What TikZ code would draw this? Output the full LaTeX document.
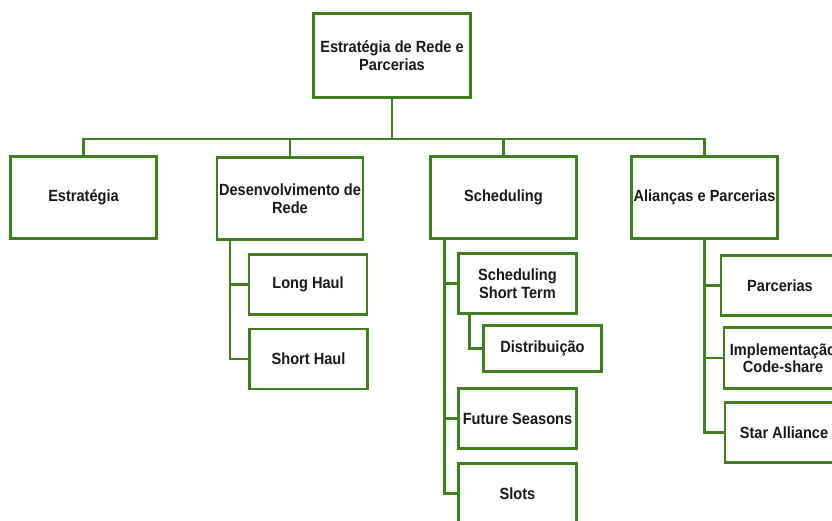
\documentclass[tikz,border=0pt]{standalone}
\usepackage{fontspec}
\setmainfont{Liberation Sans}[FakeStretch=0.9]
\definecolor{grn}{RGB}{64,128,32}
\begin{document}
\begin{tikzpicture}[x=1pt,y=-1pt,
  box/.style={draw=grn, line width=2.2pt, fill=white, align=center, inner sep=0pt,
    font=\bfseries\fontsize{16.2}{17.5}\selectfont, text=black!90},
  lvl1/.style={box, minimum width=146pt, minimum height=82pt},
  leaf/.style={box, minimum width=118pt, minimum height=60pt},
  conn/.style={draw=grn, line width=2.2pt}]
\useasboundingbox (0,0) rectangle (832,520);
\clip (0,0) rectangle (832,520);
\node[box, minimum width=157pt, minimum height=84pt] (top) at (392,55.5) {Estratégia de Rede e\\Parcerias};
\node[lvl1] (est) at (83.5,197.5) {Estratégia};
\node[lvl1] (des) at (290,198.5) {Desenvolvimento de\\Rede};
\node[lvl1] (sch) at (503.5,197.5) {Scheduling};
\node[lvl1] (ali) at (704.5,197.5) {Alianças e Parcerias};
\node[leaf] (lh) at (308,284.5) {Long Haul};
\node[leaf] (sh) at (308.5,359) {Short Haul};
\node[leaf] (sst) at (517.5,283.5) {Scheduling\\Short Term};
\node[leaf, minimum height=46pt] (dis) at (542.5,348.5) {Distribuição};
\node[leaf] (fs) at (517.5,418.5) {Future Seasons};
\node[leaf] (slo) at (517.5,493.5) {Slots};
\node[leaf] (par) at (780,285.5) {Parcerias};
\node[leaf, minimum height=61pt] (imp) at (783,358) {Implementação\\Code-share};
\node[leaf] (sta) at (784,432.5) {Star Alliance};
\coordinate (bus) at (392,139);
\draw[conn] (top.south) -- (bus);
\draw[conn] (est.north) |- (bus);
\draw[conn] (des.north) |- (bus);
\draw[conn] (sch.north) |- (bus);
\draw[conn] (ali.north) |- (bus);
\draw[conn] ([xshift=14pt]des.south west) |- (lh.west);
\draw[conn] ([xshift=14pt]des.south west) |- (sh.west);
\draw[conn] ([xshift=15pt]sch.south west) |- (sst.west);
\draw[conn] ([xshift=15pt]sch.south west) |- (fs.west);
\draw[conn] ([xshift=15pt]sch.south west) |- (slo.west);
\draw[conn] ([xshift=12pt]sst.south west) |- (dis.west);
\draw[conn] (ali.south) |- (par.west);
\draw[conn] (ali.south) |- (imp.west);
\draw[conn] (ali.south) |- (sta.west);
\end{tikzpicture}
\end{document}
